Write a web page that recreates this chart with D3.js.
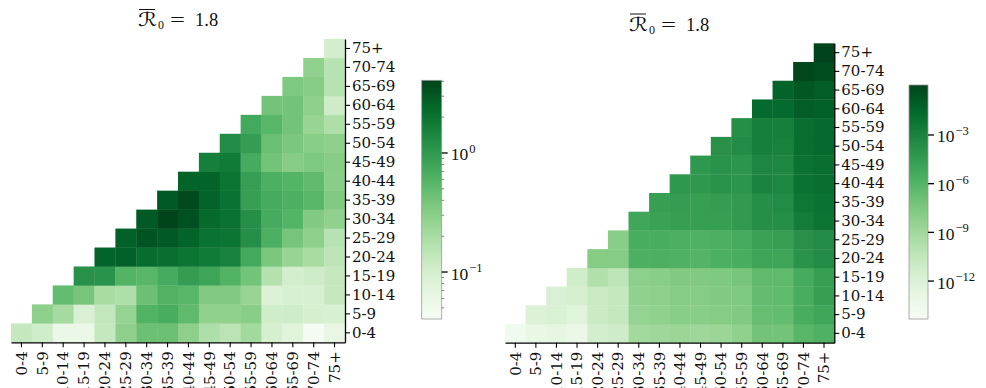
<!DOCTYPE html>
<html>
<head>
<meta charset="utf-8">
<script src="https://cdn.jsdelivr.net/npm/d3@7"></script>
<style>
  html, body { margin: 0; padding: 0; background: #fff; }
  svg { display: block; }
</style>
</head>
<body>
<svg id="chart" width="986" height="388"></svg>
<script>
// ---------------- data ----------------
const ageGroups = ["0-4","5-9","10-14","15-19","20-24","25-29","30-34","35-39",
  "40-44","45-49","50-54","55-59","60-64","65-69","70-74","75+"];

const titleSymbol = "\u211B";
const titleSub = "0";
const titleRest = ["=", "1.8"];

// left panel: rows = age group (0-4 first), columns = age group; null = not shown
const leftValues = [
  [0.128,0.106,0.0582,0.0582,0.128,0.294,0.445,0.445,0.294,0.185,0.154,0.222,0.0968,0.0769,0.0442,0.064],
  [null,0.294,0.212,0.0883,0.134,0.267,0.614,0.674,0.511,0.280,0.280,0.308,0.106,0.111,0.0968,0.0925],
  [null,null,0.488,0.387,0.203,0.185,0.445,0.614,0.560,0.337,0.337,0.255,0.0843,0.0925,0.0925,0.128],
  [null,null,null,1.17,1.12,0.586,0.560,0.706,0.931,0.811,0.614,0.406,0.169,0.101,0.111,0.128],
  [null,null,null,null,2.57,2.69,2.24,2.14,1.95,1.78,1.55,0.740,0.370,0.255,0.203,0.147],
  [null,null,null,null,null,2.69,3.24,2.96,2.57,2.04,1.95,1.23,0.644,0.387,0.294,0.161],
  [null,null,null,null,null,null,2.96,4.08,3.39,2.35,2.04,1.23,0.706,0.586,0.337,0.280],
  [null,null,null,null,null,null,null,2.96,3.72,2.57,2.04,0.889,0.706,0.644,0.560,0.337],
  [null,null,null,null,null,null,null,null,2.57,2.57,1.95,0.889,0.644,0.586,0.511,0.308],
  [null,null,null,null,null,null,null,null,null,1.62,1.78,0.706,0.406,0.322,0.353,0.322],
  [null,null,null,null,null,null,null,null,null,null,1.29,0.931,0.445,0.370,0.308,0.294],
  [null,null,null,null,null,null,null,null,null,null,null,0.740,0.560,0.406,0.255,0.185],
  [null,null,null,null,null,null,null,null,null,null,null,null,0.406,0.406,0.294,0.111],
  [null,null,null,null,null,null,null,null,null,null,null,null,null,0.353,0.322,0.161],
  [null,null,null,null,null,null,null,null,null,null,null,null,null,null,0.280,0.161],
  [null,null,null,null,null,null,null,null,null,null,null,null,null,null,null,0.101]
];
const leftDomain = [0.0403, 4.08];
const leftMajorTicks = [0.1, 1];
const leftTickLabels = [["10","\u22121"],["10","0"]];
const leftMinorTicks = [0.05,0.06,0.07,0.08,0.09,0.2,0.3,0.4,0.5,0.6,0.7,0.8,0.9,2,3,4];

// right panel
const rightValues = [
  [1.7e-14,9.1e-14,1.3e-13,6.5e-14,3.5e-12,6.8e-12,9.9e-10,1.4e-9,1.9e-9,1.4e-9,1.9e-9,5.2e-9,7.4e-8,7.4e-8,7.6e-7,1.5e-6],
  [null,9.3e-13,1.3e-12,4.8e-13,9.5e-12,1.8e-11,3.7e-9,5.2e-9,1.0e-8,1.0e-8,1.4e-8,2.0e-8,2.0e-7,2.8e-7,2.9e-6,7.7e-6],
  [null,null,1.3e-12,2.5e-12,1.3e-11,1.8e-11,5.2e-9,7.3e-9,1.4e-8,1.4e-8,2.0e-8,2.7e-8,2.8e-7,3.9e-7,2.9e-6,2.1e-5],
  [null,null,null,4.9e-12,1.9e-10,5.0e-11,7.3e-9,1.0e-8,2.0e-8,2.0e-8,2.7e-8,5.3e-8,3.9e-7,3.9e-7,4.0e-6,2.1e-5],
  [null,null,null,null,1.4e-8,1.4e-8,2.1e-6,2.1e-6,1.5e-6,1.1e-6,2.1e-6,2.9e-6,1.1e-5,1.1e-5,1.1e-4,3.0e-4],
  [null,null,null,null,null,1.0e-8,2.9e-6,2.9e-6,2.1e-6,1.5e-6,2.1e-6,4.0e-6,1.5e-5,2.1e-5,1.5e-4,3.0e-4],
  [null,null,null,null,null,null,7.7e-6,1.5e-5,2.1e-5,2.1e-5,2.1e-5,4.1e-5,2.1e-4,2.1e-4,2.2e-3,5.9e-3],
  [null,null,null,null,null,null,null,2.1e-5,2.9e-5,2.1e-5,2.9e-5,4.1e-5,2.1e-4,3.0e-4,4.3e-3,8.3e-3],
  [null,null,null,null,null,null,null,null,5.7e-5,5.7e-5,1.1e-4,7.9e-5,8.1e-4,5.8e-4,8.3e-3,1.2e-2],
  [null,null,null,null,null,null,null,null,null,5.7e-5,1.1e-4,7.9e-5,5.8e-4,5.8e-4,8.3e-3,1.2e-2],
  [null,null,null,null,null,null,null,null,null,null,1.5e-4,3.0e-4,1.6e-3,1.1e-3,1.2e-2,2.2e-2],
  [null,null,null,null,null,null,null,null,null,null,null,2.1e-4,1.6e-3,1.6e-3,1.2e-2,2.2e-2],
  [null,null,null,null,null,null,null,null,null,null,null,null,2.2e-2,2.2e-2,8.4e-2,6.1e-2],
  [null,null,null,null,null,null,null,null,null,null,null,null,null,4.3e-2,0.16,8.4e-2],
  [null,null,null,null,null,null,null,null,null,null,null,null,null,null,0.86,0.44],
  [null,null,null,null,null,null,null,null,null,null,null,null,null,null,null,1.2]
];
const rightDomain = [4.6e-15, 1.2];
const rightMajorTicks = [1e-12, 1e-9, 1e-6, 1e-3];
const rightTickLabels = [["10","\u221212"],["10","\u22129"],["10","\u22126"],["10","\u22123"]];
const rightMinorTicks = [];

// ---------------- drawing ----------------
const svg = d3.select("#chart");
const tickFont = "'DejaVu Serif', serif";
const mathFont = "'Liberation Serif', 'DejaVu Serif', serif";

function drawPanel(cfg) {
  const g = svg.append("g");
  const x = d3.scaleBand().domain(ageGroups).range([cfg.x0, cfg.x1]).padding(0);
  const y = d3.scaleBand().domain(ageGroups).range([cfg.y1, cfg.y0]).padding(0);
  const color = d3.scaleSequentialLog(d3.interpolateGreens).domain(cfg.domain);

  const cells = [];
  cfg.values.forEach((row, r) => row.forEach((v, c) => {
    if (v !== null) cells.push({ r: ageGroups[r], c: ageGroups[c], v });
  }));

  g.append("g").selectAll("rect").data(cells).join("rect")
    .attr("x", d => x(d.c))
    .attr("y", d => y(d.r))
    .attr("width", x.bandwidth() + 0.3)
    .attr("height", y.bandwidth() + 0.3)
    .attr("fill", d => color(d.v));

  // bottom axis
  const ax = g.append("g").attr("transform", `translate(0,${cfg.y1})`)
    .call(d3.axisBottom(x).tickSizeInner(5).tickSizeOuter(0).tickPadding(4));
  ax.select(".domain").attr("stroke", "#000").attr("stroke-width", 1.3);
  ax.selectAll(".tick line").attr("stroke", "#000").attr("stroke-width", 1.1);
  ax.selectAll(".tick text")
    .attr("font-family", tickFont).attr("font-size", 15).attr("fill", "#111")
    .attr("transform", "rotate(-90)")
    .attr("text-anchor", "end")
    .attr("x", -9).attr("y", 0).attr("dy", "0.35em");

  // right axis
  const ay = g.append("g").attr("transform", `translate(${cfg.x1},0)`)
    .call(d3.axisRight(y).tickSizeInner(5).tickSizeOuter(0).tickPadding(2));
  ay.select(".domain").attr("stroke", "#000").attr("stroke-width", 1.3);
  ay.selectAll(".tick line").attr("stroke", "#000").attr("stroke-width", 1.1);
  ay.selectAll(".tick text")
    .attr("font-family", tickFont).attr("font-size", 15).attr("fill", "#111");

  // title:  R̄₀ = 1.8  (pieces placed relative to the panel centre)
  const tg = g.append("g").attr("transform", `translate(${cfg.titleX},${cfg.titleY})`)
    .attr("fill", "#111");
  tg.append("text").attr("x", -40).attr("y", 0)
    .attr("font-family", "'DejaVu Serif', 'DejaVu Sans', serif")
    .attr("font-style", "italic").attr("font-size", 19)
    .attr("textLength", 19).attr("lengthAdjust", "spacingAndGlyphs")
    .text(titleSymbol);
  tg.append("text").attr("x", -20).attr("y", 3)
    .attr("font-family", mathFont).attr("font-size", 12).text(titleSub);
  tg.append("text").attr("x", -8).attr("y", 0)
    .attr("font-family", mathFont).attr("font-size", 19)
    .attr("textLength", 15).attr("lengthAdjust", "spacingAndGlyphs")
    .text(titleRest[0]);
  tg.append("text").attr("x", 17).attr("y", 0)
    .attr("font-family", mathFont).attr("font-size", 18.5)
    .text(titleRest[1]);
  tg.append("line")
    .attr("x1", -39).attr("x2", -23)
    .attr("y1", -16.5).attr("y2", -16.5)
    .attr("stroke", "#111").attr("stroke-width", 1);

  // colorbar
  const cb = cfg.cb;
  const cscale = d3.scaleLog().domain(cfg.domain).range([cb.y1, cb.y0]);
  const gradId = "grad" + cfg.id;
  const grad = svg.append("defs").append("linearGradient")
    .attr("id", gradId).attr("x1", 0).attr("x2", 0).attr("y1", 1).attr("y2", 0);
  d3.range(0, 1.0001, 0.02).forEach(s => {
    grad.append("stop").attr("offset", s).attr("stop-color", d3.interpolateGreens(s));
  });
  g.append("rect")
    .attr("x", cb.x0).attr("y", cb.y0)
    .attr("width", cb.x1 - cb.x0).attr("height", cb.y1 - cb.y0)
    .attr("fill", `url(#${gradId})`)
    .attr("stroke", "#999").attr("stroke-width", 0.8);

  g.append("g").selectAll("line").data(cfg.minor).join("line")
    .attr("x1", cb.x1).attr("x2", cb.x1 + 2.5)
    .attr("y1", d => cscale(d)).attr("y2", d => cscale(d))
    .attr("stroke", "#555").attr("stroke-width", 0.7);

  const major = g.append("g").selectAll("g").data(cfg.major).join("g")
    .attr("transform", d => `translate(${cb.x1},${cscale(d)})`);
  major.append("line").attr("x1", 0).attr("x2", 6)
    .attr("stroke", "#000").attr("stroke-width", 1.3);
  const lbl = major.append("text")
    .attr("x", 9).attr("y", 7.5)
    .attr("font-family", mathFont).attr("font-size", 17.5).attr("fill", "#111");
  lbl.append("tspan").text((d, i) => cfg.labels[i][0]);
  lbl.append("tspan").attr("font-size", 12.5).attr("dy", -7.5).attr("dx", 1).text((d, i) => cfg.labels[i][1]);
}

drawPanel({
  id: "L", values: leftValues, domain: leftDomain,
  x0: 11, x1: 345, y0: 39, y1: 342.3,
  titleX: 178, titleY: 26,
  major: leftMajorTicks, labels: leftTickLabels, minor: leftMinorTicks,
  cb: { x0: 421.7, x1: 441.7, y0: 80.3, y1: 319 }
});

drawPanel({
  id: "R", values: rightValues, domain: rightDomain,
  x0: 505, x1: 834.3, y0: 43.3, y1: 342.7,
  titleX: 669, titleY: 30.5,
  major: rightMajorTicks, labels: rightTickLabels, minor: rightMinorTicks,
  cb: { x0: 909, x1: 928, y0: 85, y1: 319 }
});
</script>
</body>
</html>
